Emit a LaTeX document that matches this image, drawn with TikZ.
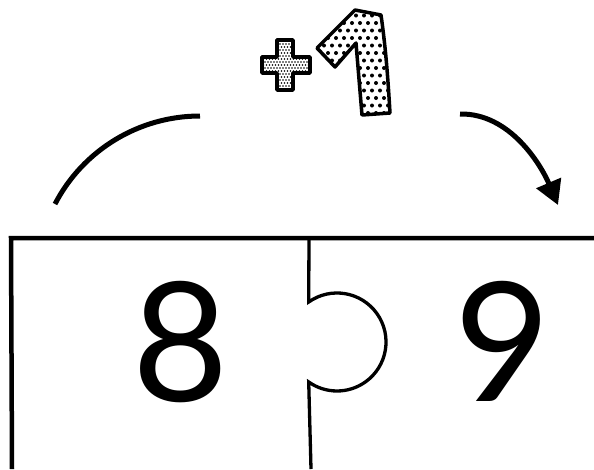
\documentclass[tikz,border=0pt]{standalone}
\usepackage{fontspec}
\setmainfont{Lato}
\usetikzlibrary{arrows.meta}
\begin{document}
\begin{tikzpicture}[x=1pt,y=-1pt,
  edge/.style={line width=4.5pt, line join=miter},
  seam/.style={line width=3.3pt},
  curvestroke/.style={line width=5pt},
  digit/.style={font=\fontsize{166}{166}\selectfont, anchor=base, inner sep=0pt},
  outline/.style={line width=3.5pt, line join=round}]
\useasboundingbox (0,0) rectangle (594,469);
% frame
\draw[edge] (12,469) -- (11,238) -- (594,238);
% puzzle seam with knob
\draw[seam] (309,238) -- (308.7,302) arc[start angle=-125.3, end angle=125.3, radius=49] -- (311,469);
% digits
\node[digit] (n8) at (181,401) {8};
\node[digit] (n9) at (503,401) {9};
% arcs
\coordinate (la) at (55,204);
\coordinate (lb) at (200,116);
\coordinate (ra) at (460,114);
\coordinate (rb) at (558,205);
\draw[curvestroke] (la) .. controls (83,150) and (139,116) .. (lb);
\draw[curvestroke, -{Triangle[length=24pt,width=26pt]}] (ra) .. controls (510,113) and (541,165) .. (rb);
% plus sign
\def\plusshape{(277,40) -- (293,40) -- (293,57) -- (310,57) -- (310,73) -- (293,73) -- (293,90) -- (277,90) -- (277,73) -- (262,73) -- (262,57) -- (277,57) -- cycle}
\begin{scope}
\clip \plusshape;
\foreach \i in {0,...,17} \foreach \j in {0,...,18}
  \fill ({259+\i*3+mod(\j,2)*1.5},{38+\j*3}) circle (0.85pt);
\end{scope}
\draw[outline] \plusshape;
% one
\def\oneshape{(355,10) -- (381,15) .. controls (386,50) and (388,80) .. (390,113) -- (362,115) -- (356,43) -- (335,67) -- (317,48) -- cycle}
\begin{scope}
\clip \oneshape;
\foreach \i in {0,...,11} \foreach \j in {0,...,15}
  \fill ({312+\i*8+mod(\j,2)*4},{8+\j*7.5}) circle (2pt);
\end{scope}
\draw[outline] \oneshape;
\end{tikzpicture}
\end{document}
